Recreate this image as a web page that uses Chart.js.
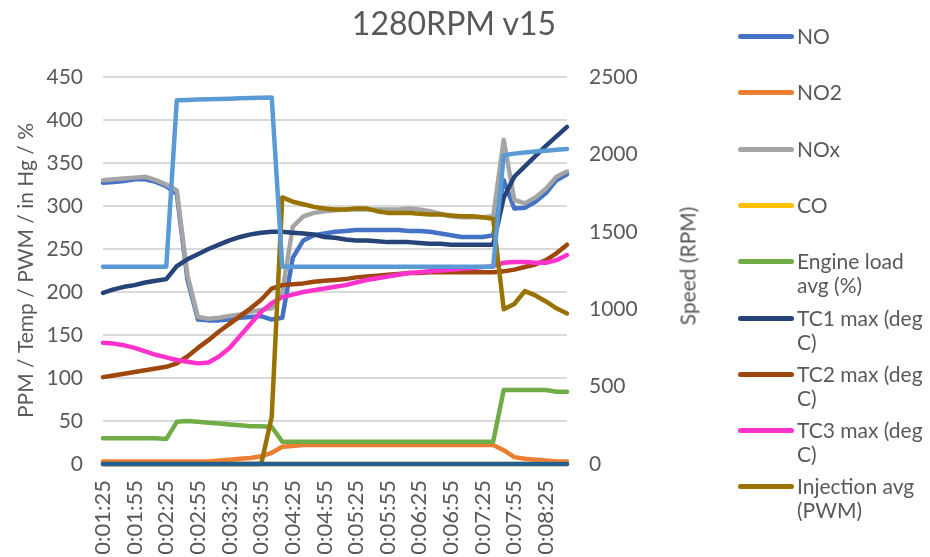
<!DOCTYPE html>
<html lang="en">
<head>
  <meta charset="UTF-8">
  <title>1280RPM v15</title>
  <script src="https://cdn.jsdelivr.net/npm/chart.js"></script>
  <style>
    html, body {
      margin: 0;
      padding: 0;
      background: #fff;
      overflow: hidden;
    }
    #wrap {
      position: relative;
      width: 930px;
      height: 557px;
      font-family: Lato, sans-serif;
      color: #595959;
    }
    #chart {
      position: absolute;
      left: 0;
      top: 0;
    }
    #title {
      position: absolute;
      left: 0;
      width: 908px;
      top: 5px;
      text-align: center;
      font-size: 32px;
      line-height: 36px;
    }
    #y1title {
      position: absolute;
      left: 687px;
      top: 266px;
      transform: translate(-50%, -50%) rotate(-90deg);
      white-space: nowrap;
      font-size: 21px;
    }
    .legend-item {
      position: absolute;
      left: 738px;
      width: 200px;
    }
    .legend-line {
      position: absolute;
      left: 0;
      top: 10px;
      width: 56px;
      height: 5px;
      border-radius: 3px;
    }
    .legend-text {
      position: absolute;
      left: 59px;
      top: 0;
      width: 136px;
      font-size: 21px;
      line-height: 24px;
    }
  </style>
</head>
<body>
  <div id="wrap">
    <canvas id="chart" width="930" height="557"></canvas>
    <div id="title">1280RPM v15</div>
    <div id="y1title">Speed (RPM)</div>
    <div id="legend"></div>
  </div>

  <script>
    // time stamps, 10 s apart
    const times = [
      '0:01:25', '0:01:35', '0:01:45', '0:01:55', '0:02:05', '0:02:15', '0:02:25', '0:02:35', '0:02:45',
      '0:02:55', '0:03:05', '0:03:15', '0:03:25', '0:03:35', '0:03:45', '0:03:55', '0:04:05', '0:04:15',
      '0:04:25', '0:04:35', '0:04:45', '0:04:55', '0:05:05', '0:05:15', '0:05:25', '0:05:35', '0:05:45',
      '0:05:55', '0:06:05', '0:06:15', '0:06:25', '0:06:35', '0:06:45', '0:06:55', '0:07:05', '0:07:15',
      '0:07:25', '0:07:35', '0:07:45', '0:07:55', '0:08:05', '0:08:15', '0:08:25', '0:08:35', '0:08:45'
    ];

    const no = [327, 328, 329, 331, 331, 328, 323, 314, 215, 168, 167, 167, 168, 170, 171, 172, 168, 170, 240, 260, 266, 268, 270, 271, 272, 272, 272, 272, 272, 271, 271, 270, 268, 266, 264, 264, 264, 266, 330, 297, 298, 305, 315, 330, 337];
    const no2 = [3, 3, 3, 3, 3, 3, 3, 3, 3, 3, 3, 4, 5, 6, 7, 9, 13, 20, 21, 22, 22, 22, 22, 22, 22, 22, 22, 22, 22, 22, 22, 22, 22, 22, 22, 22, 22, 22, 16, 8, 6, 5, 4, 3, 3];
    const nox = [330, 331, 332, 333, 334, 330, 325, 318, 220, 171, 169, 170, 172, 174, 177, 179, 181, 200, 276, 288, 292, 294, 295, 296, 296, 296, 296, 296, 296, 297, 296, 294, 291, 288, 287, 287, 287, 288, 377, 307, 303, 310, 320, 334, 340];
    const co = [0, 0, 0, 0, 0, 0, 0, 0, 0, 0, 0, 0, 0, 0, 0, 0, 0, 0, 0, 0, 0, 0, 0, 0, 0, 0, 0, 0, 0, 0, 0, 0, 0, 0, 0, 0, 0, 0, 0, 0, 0, 0, 0, 0, 0];
    const engineLoad = [30, 30, 30, 30, 30, 30, 29, 49, 50, 49, 48, 47, 46, 45, 44, 44, 43, 26, 26, 26, 26, 26, 26, 26, 26, 26, 26, 26, 26, 26, 26, 26, 26, 26, 26, 26, 26, 26, 86, 86, 86, 86, 86, 84, 84];
    const tc1 = [199, 203, 206, 208, 211, 213, 215, 230, 238, 244, 250, 255, 260, 264, 267, 269, 270, 270, 269, 268, 267, 264, 263, 261, 260, 260, 259, 258, 258, 258, 257, 256, 256, 255, 255, 255, 255, 255, 310, 334, 346, 358, 370, 381, 392];
    const tc2 = [101, 103, 105, 107, 109, 111, 113, 117, 125, 135, 144, 154, 163, 172, 181, 191, 204, 208, 209, 210, 212, 213, 214, 215, 217, 218, 219, 220, 221, 222, 222, 223, 223, 223, 223, 223, 223, 223, 224, 226, 229, 232, 237, 245, 255];
    const tc3 = [141, 140, 138, 135, 131, 127, 124, 121, 119, 117, 118, 125, 135, 149, 163, 177, 187, 194, 197, 200, 202, 204, 206, 208, 211, 214, 216, 218, 220, 222, 223, 224, 225, 226, 227, 228, 229, 230, 234, 235, 235, 234, 234, 237, 243];
    const injection = [0, 0, 0, 0, 0, 0, 0, 0, 0, 0, 0, 0, 0, 0, 0, 0, 55, 310, 305, 302, 299, 297, 296, 296, 297, 297, 294, 292, 292, 292, 291, 290, 290, 289, 288, 288, 287, 285, 180, 186, 201, 196, 189, 181, 175];
    const vacuum = [0, 0, 0, 0, 0, 0, 0, 0, 0, 0, 0, 0, 0, 0, 0, 0, 0, 0, 0, 0, 0, 0, 0, 0, 0, 0, 0, 0, 0, 0, 0, 0, 0, 0, 0, 0, 0, 0, 0, 0, 0, 0, 0, 0, 0];
    const speed = [1275, 1275, 1275, 1275, 1275, 1275, 1275, 2350, 2352, 2354, 2356, 2358, 2360, 2362, 2364, 2366, 2368, 1275, 1275, 1275, 1275, 1275, 1275, 1275, 1275, 1275, 1275, 1275, 1275, 1275, 1275, 1275, 1275, 1275, 1275, 1275, 1275, 1275, 1995, 2005, 2012, 2018, 2024, 2030, 2035];

    const series = [
      { label: 'NO', data: no, color: '#4472C4' },
      { label: 'NO2', data: no2, color: '#ED7D31' },
      { label: 'NOx', data: nox, color: '#A5A5A5' },
      { label: 'CO', data: co, color: '#FFC000' },
      { label: 'Engine load avg (%)', data: engineLoad, color: '#70AD47' },
      { label: 'TC1 max (deg C)', data: tc1, color: '#264478' },
      { label: 'TC2 max (deg C)', data: tc2, color: '#9E480E' },
      { label: 'TC3 max (deg C)', data: tc3, color: '#FF33CC' },
      { label: 'Injection avg (PWM)', data: injection, color: '#997300' },
      { label: 'Vacuum (in Hg)', data: vacuum, color: '#255E91', hidden: true },
      { label: 'Speed (RPM)', data: speed, color: '#5B9BD5', axis: 'y1', hidden: true }
    ];

    Chart.defaults.font.family = 'Lato, sans-serif';
    Chart.defaults.color = '#595959';

    const datasets = series.map((s, i) => ({
      label: s.label,
      data: s.data,
      borderColor: s.color,
      backgroundColor: s.color,
      borderWidth: 4.5,
      borderCapStyle: 'round',
      borderJoinStyle: 'round',
      pointRadius: 0,
      tension: 0,
      clip: false,
      yAxisID: s.axis || 'y',
      order: series.length - i   // later series drawn on top, like Excel
    }));

    new Chart(document.getElementById('chart'), {
      type: 'line',
      data: { labels: times, datasets: datasets },
      options: {
        responsive: false,
        animation: false,
        layout: { padding: { left: 0, right: 213, top: 77, bottom: 0 } },
        plugins: {
          legend: { display: false },
          tooltip: { enabled: false }
        },
        scales: {
          x: {
            grid: { display: false, drawTicks: false },
            border: { color: '#D9D9D9', width: 2 },
            ticks: {
              autoSkip: false,
              maxRotation: 90,
              minRotation: 90,
              padding: 16,
              font: { size: 22 },
              callback: (v, i) => (i % 3 === 0 ? times[i] : '')
            },
            afterFit: scale => { scale.height = 93; }
          },
          y: {
            min: 0,
            max: 450,
            grid: { color: '#D9D9D9', lineWidth: 2, drawTicks: false },
            border: { display: false },
            ticks: { stepSize: 50, padding: 20, font: { size: 21 } },
            title: {
              display: true,
              text: 'PPM / Temp / PWM / in Hg / %',
              font: { size: 21 },
              padding: { top: 14, bottom: 0 }
            },
            afterFit: scale => { scale.width = 103; }
          },
          y1: {
            position: 'right',
            min: 0,
            max: 2500,
            grid: { drawOnChartArea: false, drawTicks: false },
            border: { display: false },
            ticks: {
              stepSize: 500,
              padding: 22,
              font: { size: 21 },
              callback: v => String(v)
            },
            afterFit: scale => { scale.width = 150; }
          }
        }
      }
    });

    // legend on the right, built from the series list
    const legend = document.getElementById('legend');
    series.filter(s => !s.hidden).forEach((s, i) => {
      const item = document.createElement('div');
      item.className = 'legend-item';
      item.style.top = (24 + i * 56.3) + 'px';
      item.innerHTML = '<div class="legend-line" style="background:' + s.color + '"></div>' +
        '<div class="legend-text">' + s.label + '</div>';
      legend.appendChild(item);
    });
  </script>
</body>
</html>
